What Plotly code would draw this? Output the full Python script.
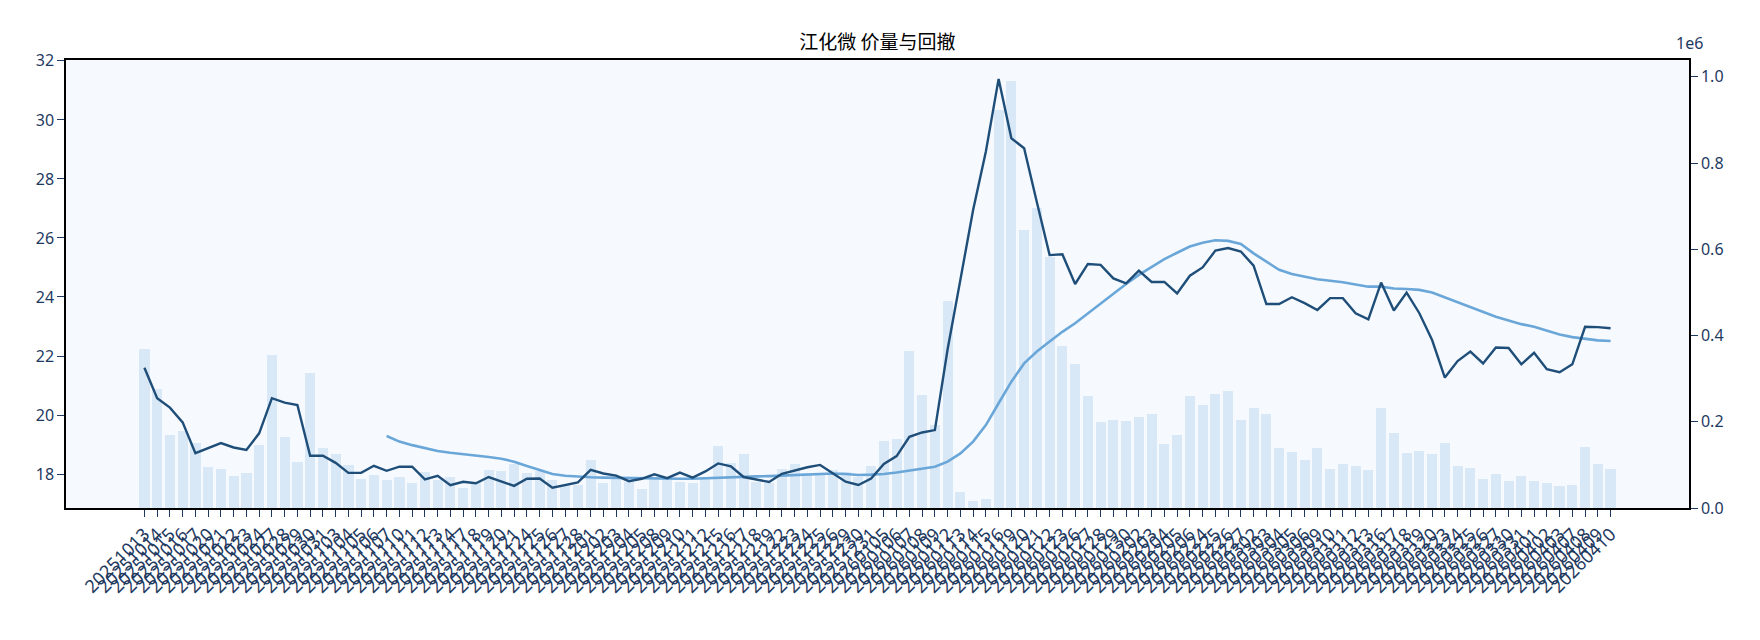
import plotly.graph_objects as go

dates = ["20251013","20251014","20251015","20251016","20251017","20251020","20251021","20251022","20251023","20251024",
"20251027","20251028","20251029","20251030","20251031",
"20251103","20251104","20251105","20251106","20251107","20251110","20251111","20251112","20251113","20251114",
"20251117","20251118","20251119","20251120","20251121","20251124","20251125","20251126","20251127","20251128",
"20251201","20251202","20251203","20251204","20251205","20251208","20251209","20251210","20251211","20251212",
"20251215","20251216","20251217","20251218","20251219","20251222","20251223","20251224","20251225","20251226",
"20251229","20251230","20251231",
"20260105","20260106","20260107","20260108","20260109","20260112","20260113","20260114","20260115","20260116",
"20260119","20260120","20260121","20260122","20260123","20260126","20260127","20260128","20260129","20260130",
"20260202","20260203","20260204","20260205","20260206","20260224","20260225","20260226","20260227",
"20260302","20260303","20260304","20260305","20260306","20260309","20260310","20260311","20260312","20260313",
"20260316","20260317","20260318","20260319","20260320","20260323","20260324","20260325","20260326","20260327",
"20260330","20260331","20260401","20260402","20260403","20260407","20260408","20260409","20260410"]

price = [21.6,20.57,20.25,19.75,18.71,18.88,19.05,18.9,18.82,19.38,20.57,20.42,20.34,18.62,18.62,18.38,18.04,18.04,18.28,18.11,
18.25,18.25,17.82,17.94,17.62,17.74,17.69,17.90,17.75,17.60,17.84,17.85,17.54,17.63,17.72,18.14,18.02,17.95,17.76,17.84,
17.99,17.86,18.05,17.88,18.09,18.36,18.26,17.90,17.82,17.73,18.01,18.12,18.23,18.31,18.02,17.74,17.63,17.85,18.34,18.61,
19.26,19.41,19.49,22.23,24.58,26.95,28.93,31.39,29.38,29.04,27.21,25.42,25.45,24.44,25.12,25.09,24.63,24.46,24.89,24.51,
24.51,24.12,24.72,25.0,25.57,25.66,25.54,25.06,23.76,23.76,23.99,23.79,23.56,23.96,23.96,23.45,23.24,24.49,23.54,24.15,
23.45,22.54,21.27,21.83,22.15,21.75,22.29,22.27,21.72,22.11,21.55,21.45,21.72,22.99,22.98,22.94]

ma = [None]*19 + [19.29,19.10,18.98,18.87,18.78,18.72,18.68,18.63,18.58,18.52,18.42,18.27,18.14,18.0,17.94,17.91,17.89,17.88,
17.87,17.86,17.85,17.85,17.84,17.84,17.84,17.86,17.88,17.90,17.91,17.92,17.93,17.95,17.97,
17.99,18.0,18.02,18.0,17.97,17.98,18.0,18.05,18.11,18.18,18.25,18.42,18.70,19.1,19.66,20.4,21.13,21.75,22.15,22.49,22.82,
23.11,23.45,23.79,24.13,24.44,24.75,25.03,25.28,25.5,25.71,25.84,25.92,25.9,
25.80,25.48,25.20,24.92,24.78,24.69,24.60,24.55,24.50,24.42,24.35,24.35,24.29,24.27,24.24,24.15,23.99,23.83,23.67,23.49,
23.33,23.20,23.08,22.99,22.86,22.73,22.64,22.58,22.53,22.51]

volume = [369000,276000,169000,179000,150000,94000,91000,74000,82000,146000,355000,165000,107000,314000,140000,125000,100000,
67000,77000,65000,73000,59000,
83000,65000,73000,47000,61000,88000,86000,101000,81000,85000,65000,53000,53000,111000,59000,73000,61000,44000,69000,69000,
61000,57000,73000,144000,104000,125000,61000,57000,90000,102000,82000,80000,
89000,84000,73000,98000,155000,160000,365000,262000,193000,481000,36000,16000,22000,922000,991000,645000,695000,582000,
376000,334000,260000,200000,204000,202000,211000,218000,149000,170000,260000,239000,265000,272000,
204000,231000,218000,139000,130000,111000,139000,90000,103000,97000,88000,231000,174000,127000,132000,125000,151000,97000,
93000,67000,79000,63000,74000,63000,58000,51000,53000,141000,102000,90000]

x = list(range(len(dates)))
tick_col = "#1f3a5f"
font = "Noto Sans, Noto Sans CJK SC, sans-serif"

fig = go.Figure()
fig.add_trace(go.Bar(x=x, y=volume, width=0.8, marker=dict(color="#d9e8f6", line=dict(width=0)),
                     yaxis="y", showlegend=False))
fig.add_trace(go.Scatter(x=x, y=ma, mode="lines", line=dict(color="#6aa7d8", width=2.6),
                         yaxis="y2", showlegend=False))
fig.add_trace(go.Scatter(x=x, y=price, mode="lines", line=dict(color="#1f4e79", width=2.4),
                         yaxis="y2", showlegend=False))

fig.update_layout(
    width=1744, height=624,
    margin=dict(l=58, r=63, t=52, b=124),
    paper_bgcolor="white", plot_bgcolor="#f6faff",
    font=dict(family=font, color=tick_col, size=16),
    title=dict(text="江化微 价量与回撤", x=0.5, xref="paper", y=0.955, yref="container",
               xanchor="center", font=dict(family="Noto Sans CJK SC", size=19, color="black")),
    bargap=0,
    xaxis=dict(range=[-6.15, len(dates) - 1 + 6.15], tickmode="array", tickvals=x, ticktext=dates,
               tickangle=-45, tickfont=dict(size=18), ticks="outside", ticklen=7, tickcolor=tick_col,
               automargin=False,
               showline=True, linecolor="black", linewidth=1.5, mirror=True, showgrid=False, zeroline=False),
    yaxis=dict(side="right", range=[0, 1.039e6], tickvals=[0, 2e5, 4e5, 6e5, 8e5, 1e6],
               ticktext=["0.0", "0.2", "0.4", "0.6", "0.8", "1.0"], ticks="outside", ticklen=7,
               tickcolor=tick_col, showline=True, linecolor="black", linewidth=1.5, automargin=False,
               showgrid=False, zeroline=False),
    yaxis2=dict(side="left", overlaying="y", range=[16.85, 32.03], tickvals=list(range(18, 33, 2)),
                ticks="outside", ticklen=7, tickcolor=tick_col, showline=True, linecolor="black",
                linewidth=1.5, showgrid=False, zeroline=False, automargin=False),
    annotations=[dict(text="1e6", xref="paper", yref="paper", x=1.0, y=1.0, xanchor="center",
                      yanchor="bottom", showarrow=False, yshift=4, font=dict(size=16, color=tick_col))],
)

fig.write_html("out.html")
